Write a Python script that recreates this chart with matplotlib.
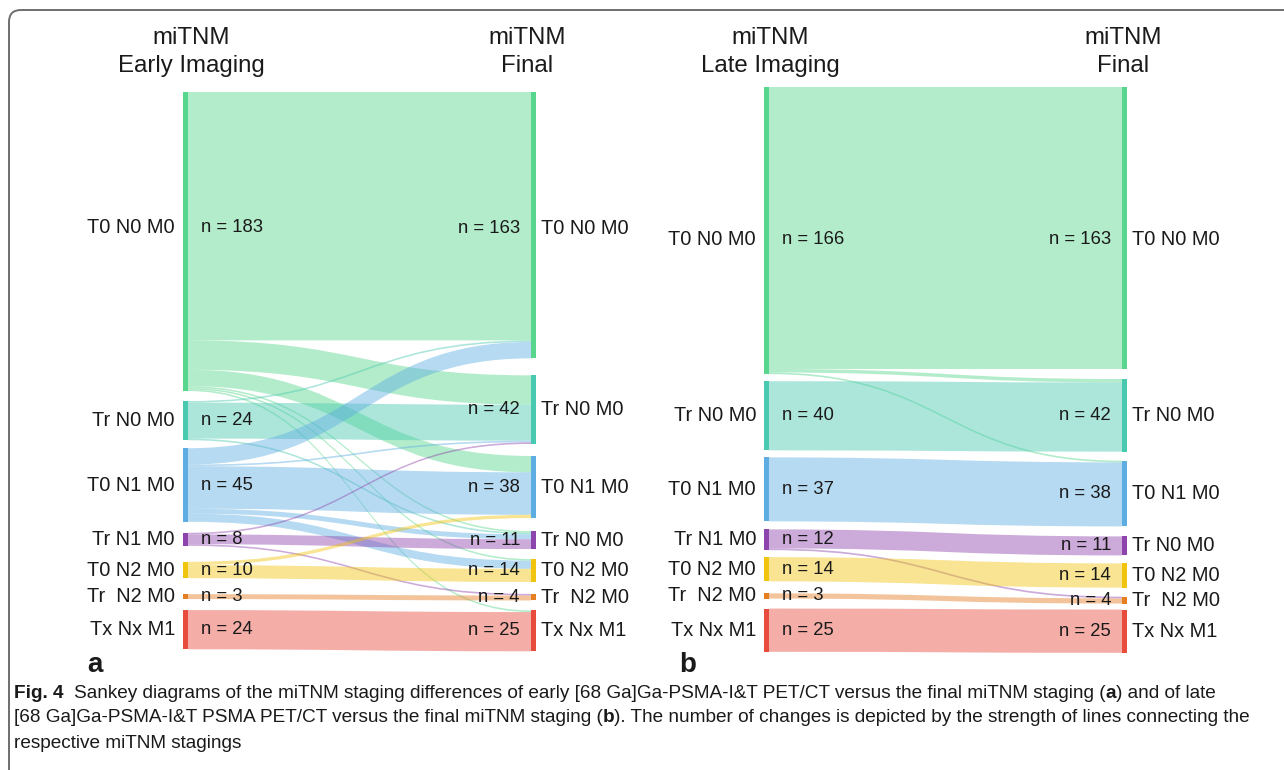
import numpy as np
import matplotlib
matplotlib.use('Agg')
import matplotlib.pyplot as plt
from matplotlib.path import Path
from matplotlib.patches import PathPatch, FancyBboxPatch

plt.rcParams['font.family'] = ['Liberation Sans', 'DejaVu Sans']

# stagings (left = imaging, right = final)
left_labels = ['T0 N0 M0', 'Tr N0 M0', 'T0 N1 M0', 'Tr N1 M0', 'T0 N2 M0', 'Tr  N2 M0', 'Tx Nx M1']
final_labels = ['T0 N0 M0', 'Tr N0 M0', 'T0 N1 M0', 'Tr N0 M0', 'T0 N2 M0', 'Tr  N2 M0', 'Tx Nx M1']
header_a = ['miTNM', 'Early Imaging']
header_b = ['miTNM', 'Late Imaging']
header_final = ['miTNM', 'Final']

# panel a: early imaging -> final
src_a = [0, 0, 0, 0, 0, 0, 1, 1, 1, 2, 2, 2, 2, 2, 3, 3, 3, 4, 4, 5, 6]
tgt_a = [0, 1, 2, 3, 4, 6, 0, 1, 3, 0, 1, 2, 3, 4, 1, 3, 5, 2, 4, 5, 6]
val_a = [152, 18, 10, 1, 1, 1, 1, 22, 1, 10, 1, 26, 3, 5, 1, 6, 1, 2, 8, 3, 24]

# panel b: late imaging -> final
src_b = [0, 0, 0, 1, 2, 3, 3, 4, 5, 6]
tgt_b = [0, 1, 2, 1, 2, 3, 5, 4, 5, 6]
val_b = [163, 2, 1, 40, 37, 11, 1, 14, 3, 25]

node_colors = ['#58d68d', '#48c9b0', '#5dade2', '#8e44ad', '#f1c40f', '#e67e22', '#e74c3c']

lay_a = dict(xl=183, xr=531, top=92, scale=1.634,
             gaps_l=[10, 8, 11, 16, 16, 11], gaps_r=[17, 12, 13, 10, 12, 10],
             dy_l=-14, dy_r=3, hx=(191, 527), tag=(95, 'a'), header=header_a)
lay_b = dict(xl=764, xr=1122, top=87, scale=1.73,
             gaps_l=[7, 7, 8, 7, 12, 10], gaps_r=[10, 9, 10, 8, 9, 6],
             dy_l=9, dy_r=12, hx=(770, 1123), tag=(688, 'b'), header=header_b)

TXT = '#1a1a1a'
BW = 5


def stack(values, top, scale, gaps):
    ys = []
    y = top
    for i, v in enumerate(values):
        ys.append(y)
        y += v * scale
        if i < len(gaps):
            y += gaps[i]
    return np.array(ys)


def band(ax, x0, x1, a0, b0, a1, b1, color):
    xm = (x0 + x1) / 2
    verts = [(x0, a0), (xm, a0), (xm, a1), (x1, a1),
             (x1, b1), (xm, b1), (xm, b0), (x0, b0), (x0, a0)]
    codes = [Path.MOVETO, Path.CURVE4, Path.CURVE4, Path.CURVE4,
             Path.LINETO, Path.CURVE4, Path.CURVE4, Path.CURVE4, Path.CLOSEPOLY]
    ax.add_patch(PathPatch(Path(verts, codes), fc=color, ec='none', alpha=0.45, zorder=1))


def draw_panel(ax, src, tgt, val, lay):
    n = len(left_labels)
    lv = np.zeros(n)
    rv = np.zeros(n)
    for s, t, v in zip(src, tgt, val):
        lv[s] += v
        rv[t] += v
    sc = lay['scale']
    yl = stack(lv, lay['top'], sc, lay['gaps_l'])
    yr = stack(rv, lay['top'], sc, lay['gaps_r'])
    xl, xr = lay['xl'], lay['xr']

    # link offsets inside each node
    idx = range(len(val))
    y0 = {}
    off = yl.copy()
    for k in sorted(idx, key=lambda k: (src[k], tgt[k])):
        y0[k] = off[src[k]]
        off[src[k]] += val[k] * sc
    y1 = {}
    off = yr.copy()
    for k in sorted(idx, key=lambda k: (tgt[k], src[k])):
        y1[k] = off[tgt[k]]
        off[tgt[k]] += val[k] * sc
    for k in idx:
        h = val[k] * sc
        band(ax, xl + BW, xr, y0[k], y0[k] + h, y1[k], y1[k] + h, node_colors[src[k]])

    ax.bar(xl + BW / 2, lv * sc, bottom=yl, width=BW, color=node_colors, zorder=2)
    ax.bar(xr + BW / 2, rv * sc, bottom=yr, width=BW, color=node_colors, zorder=2)

    for i in range(n):
        cl = yl[i] + lv[i] * sc / 2 + (lay['dy_l'] if i == 0 else 0)
        cr = yr[i] + rv[i] * sc / 2 + (lay['dy_r'] if i == 0 else 0)
        ax.text(xl - 8, cl, left_labels[i], ha='right', va='center', fontsize=14.4, color=TXT)
        ax.text(xl + 18, cl, 'n = %d' % lv[i], ha='left', va='center', fontsize=13.3, color=TXT)
        ax.text(xr - 11, cr, 'n = %d' % rv[i], ha='right', va='center', fontsize=13.3, color=TXT)
        ax.text(xr + 10, cr, final_labels[i], ha='left', va='center', fontsize=14.4, color=TXT)

    for hx, lines in zip(lay['hx'], [lay['header'], header_final]):
        ax.text(hx, 38, lines[0], ha='center', va='center', fontsize=17.3, color=TXT)
        ax.text(hx, 66, lines[1], ha='center', va='center', fontsize=17.3, color=TXT)
    ax.text(lay['tag'][0], 665, lay['tag'][1], ha='center', va='center',
            fontsize=20, fontweight='bold', color=TXT)


fig = plt.figure(figsize=(12.84, 7.70), dpi=100)
ax = fig.add_axes([0, 0, 1, 1])
ax.set_xlim(0, 1284)
ax.set_ylim(770, 0)
ax.axis('off')

draw_panel(ax, src_a, tgt_a, val_a, lay_a)
draw_panel(ax, src_b, tgt_b, val_b, lay_b)

# frame
ax.add_patch(FancyBboxPatch((9, 10), 1320, 800, boxstyle='round,pad=0,rounding_size=12',
                            fc='none', ec='#6e6e6e', lw=1.4, zorder=0))

# caption
cap1 = [('Fig. 4', 'bold'), ('Sankey diagrams of the miTNM staging differences of early [68 Ga]Ga-PSMA-I&T PET/CT versus the final miTNM staging (', 'normal'),
        ('a', 'bold'), (') and of late', 'normal')]
cap2 = [('[68 Ga]Ga-PSMA-I&T PSMA PET/CT versus the final miTNM staging (', 'normal'), ('b', 'bold'),
        ('). The number of changes is depicted by the strength of lines connecting the', 'normal')]
cap3 = [('respective miTNM stagings', 'normal')]

renderer = fig.canvas.get_renderer()


def draw_pieces(x, y, pieces, size, gap_after_first=0, measure=False):
    x0 = x
    for j, (s, w) in enumerate(pieces):
        t = ax.text(x, y, s, fontsize=size, fontweight=w, ha='left', va='center', color=TXT)
        x += t.get_window_extent(renderer).width
        if j == 0:
            x += gap_after_first
        if measure:
            t.remove()
    return x - x0


w = draw_pieces(14, 718, cap2, 12, measure=True)
cs = 12 * 1241 / w
draw_pieces(14, 693, cap1, cs, gap_after_first=10)
draw_pieces(14, 718, cap2, cs)
draw_pieces(14, 743, cap3, cs)

fig.savefig('out.png', dpi=100)
